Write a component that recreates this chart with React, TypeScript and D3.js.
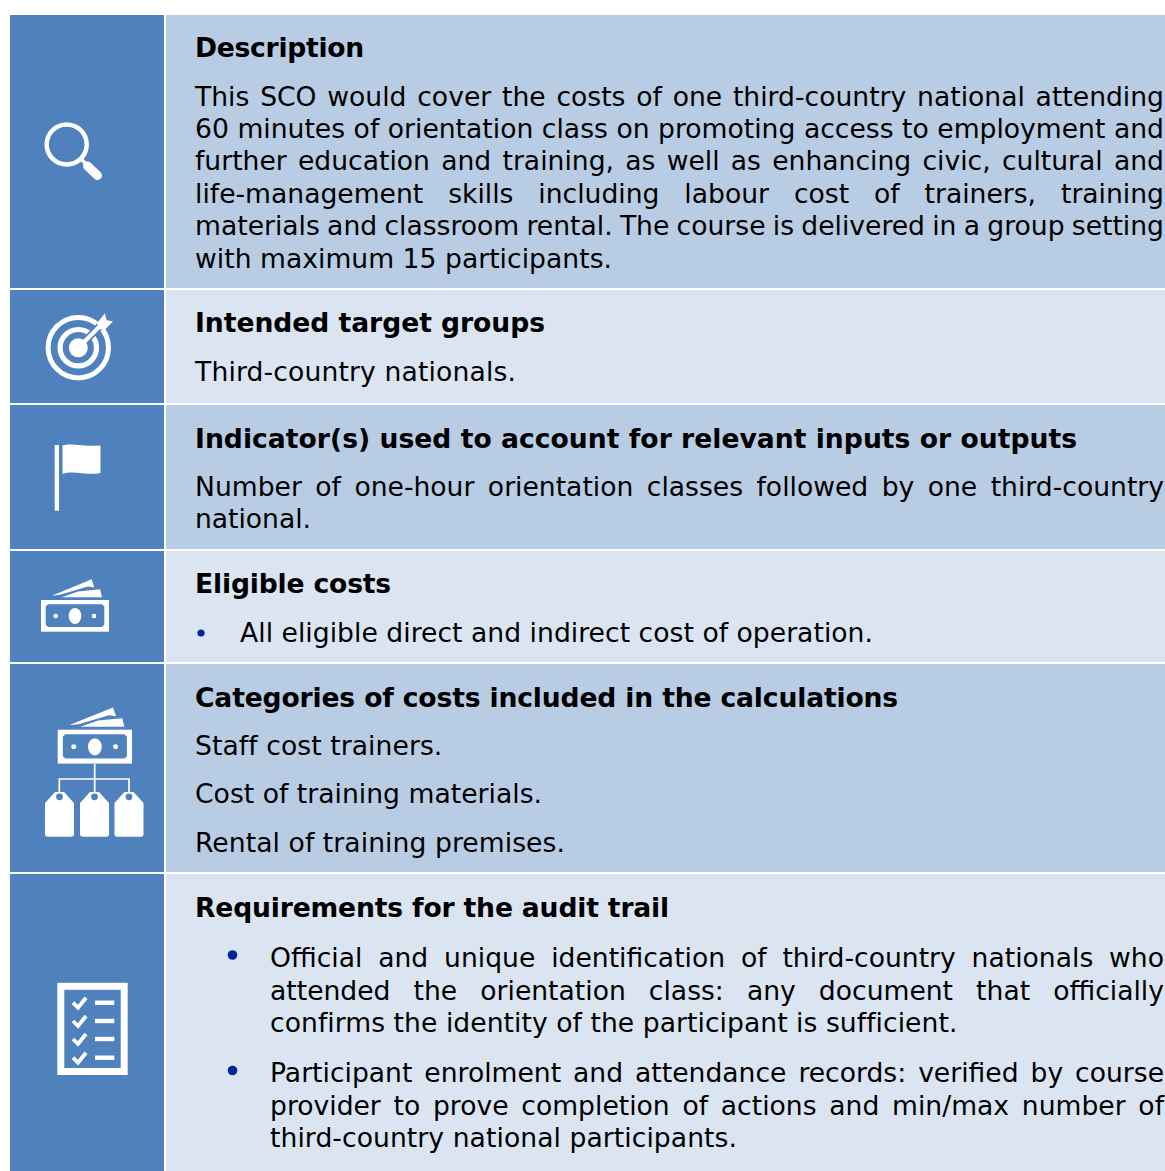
import React, { useEffect, useRef } from "react";
import * as d3 from "d3";

const WIDTH = 1165;
const HEIGHT = 1171;
const BLUE = "#4f81bd";
const DARK = "#b8cce4";
const LIGHT = "#dbe5f1";
const BULLET = "#00239c";
const FONT = "'DejaVu Sans', Verdana, sans-serif";
const SIZE = 26.6;
const RIGHT = 1164;

const rowTops = [15, 290, 405, 551, 664, 874];
const rowBottoms = [288, 403, 549, 662, 872, 1171];
const rowFills = [DARK, LIGHT, DARK, LIGHT, DARK, LIGHT];

const titles = [
  "Description",
  "Intended target groups",
  "Indicator(s) used to account for relevant inputs or outputs",
  "Eligible costs",
  "Categories of costs included in the calculations",
  "Requirements for the audit trail",
];
const titleBaselines = [57, 332, 448, 593, 707, 917];
const titleRightEdges = [364, 545, 1077, 391, 898, 669];

// [text, x, baseline, right edge, justified]
type Line = [string, number, number, number, boolean];
const bodyLines: Line[] = [
  ["This SCO would cover the costs of one third-country national attending", 195, 106, RIGHT, true],
  ["60 minutes of orientation class on promoting access to employment and", 195, 138, RIGHT, true],
  ["further education and training, as well as enhancing civic, cultural and", 195, 170, RIGHT, true],
  ["life-management skills including labour cost of trainers, training", 195, 203, RIGHT, true],
  ["materials and classroom rental. The course is delivered in a group setting", 195, 235, RIGHT, true],
  ["with maximum 15 participants.", 195, 268, 612, false],
  ["Third-country nationals.", 195, 381, 516, false],
  ["Number of one-hour orientation classes followed by one third-country", 195, 496, RIGHT, true],
  ["national.", 195, 528, 311, false],
  ["All eligible direct and indirect cost of operation.", 240, 642, 873, false],
  ["Staff cost trainers.", 195, 755, 442, false],
  ["Cost of training materials.", 195, 803, 542, false],
  ["Rental of training premises.", 195, 852, 565, false],
  ["Official and unique identification of third-country nationals who", 270, 967, RIGHT, true],
  ["attended the orientation class: any document that officially", 270, 1000, RIGHT, true],
  ["confirms the identity of the participant is sufficient.", 270, 1032, 957, false],
  ["Participant enrolment and attendance records: verified by course", 270, 1082, RIGHT, true],
  ["provider to prove completion of actions and min/max number of", 270, 1115, RIGHT, true],
  ["third-country national participants.", 270, 1147, 737, false],
];

const bullets: [number, number, number][] = [
  [201, 633, 3.6],
  [232.5, 955, 4.8],
  [232.5, 1070.5, 4.8],
];

function Money({ transform }: { transform?: string }) {
  return (
    <g transform={transform}>
      <path d="M51.7 595.7 L91.7 579.3 L94.3 587.5 L88 586.5 L60 594.8 Z" fill="#fff" />
      <path d="M61.7 597.3 L78 591.5 L100 589.3 L102 597.3 Z" fill="#fff" />
      <rect x={41} y={600} width={68} height={31.7} fill="#fff" />
      <path d="M48 604.3 H102 L104.3 606.6 V624.7 L102 627 H48 L45.7 624.7 V606.6 Z" fill={BLUE} />
      <ellipse cx={75} cy={616} rx={6.3} ry={8} fill="#fff" />
      <circle cx={55.7} cy={616} r={2.3} fill="#fff" />
      <circle cx={94} cy={616} r={2.3} fill="#fff" />
    </g>
  );
}

const tagXs = [45, 80, 114.5];
const checkRows = [1002.7, 1021, 1039, 1057.7];

function Icons() {
  return (
    <g>
      {/* magnifier */}
      <circle cx={66.7} cy={144.4} r={20} fill="none" stroke="#fff" strokeWidth={4.5} />
      <line x1={81} y1={159} x2={87} y2={165} stroke="#fff" strokeWidth={3.5} />
      <line x1={87.5} y1={166} x2={97.5} y2={175.5} stroke="#fff" strokeWidth={9} strokeLinecap="round" />

      {/* target */}
      <circle cx={78.3} cy={347.7} r={30.2} fill="none" stroke="#fff" strokeWidth={5} />
      <circle cx={78.3} cy={347.7} r={18.2} fill="none" stroke="#fff" strokeWidth={5.2} />
      <circle cx={78.3} cy={347.7} r={9.5} fill="#fff" />
      <line x1={86} y1={340} x2={106} y2={320} stroke={BLUE} strokeWidth={7.5} />
      <line x1={80} y1={346} x2={104} y2={322} stroke="#fff" strokeWidth={4} />
      <path d="M97 323 L105 313.3 L106.5 320 L113 321.5 L104.5 330 L99 329 Z" fill="#fff" />

      {/* flag */}
      <rect x={54.7} y={445} width={4.3} height={65.7} fill="#fff" />
      <path d="M62.5 445.5 C72 442.5 86 447 100.5 445.5 V473 C88 476 75 470 62.5 473.8 Z" fill="#fff" />

      {/* money */}
      <Money />

      {/* money and tags */}
      <Money transform="translate(57.7 729.7) scale(1.093 1.07) translate(-41 -600)" />
      <path
        d="M94.7 763.7 V794 M59.3 794 V779 H129 V794"
        fill="none"
        stroke="#fff"
        strokeWidth={1.7}
      />
      {tagXs.map((x) => (
        <g key={x}>
          <path
            d={`M${x} 803 L${x + 10} 792 H${x + 19} L${x + 29} 803 V834 Q${x + 29} 836.7 ${x + 26} 836.7 H${x + 3} Q${x} 836.7 ${x} 834 Z`}
            fill="#fff"
          />
          <circle cx={x + 14.5} cy={796.8} r={3.4} fill={BLUE} />
        </g>
      ))}

      {/* checklist */}
      <rect x={60.8} y={986.3} width={63.4} height={85.2} fill="none" stroke="#fff" strokeWidth={7} />
      {checkRows.map((y) => (
        <g key={y} stroke="#fff" fill="none">
          <path d="M73 0 L78 5 L86 -5" transform={`translate(0 ${y})`} strokeWidth={3.8} />
          <line x1={95} x2={114.3} y1={y} y2={y} strokeWidth={4.4} />
        </g>
      ))}
    </g>
  );
}

export default function App() {
  const ref = useRef<SVGSVGElement | null>(null);

  useEffect(() => {
    const svg = d3.select(ref.current);
    const g = svg.select<SVGGElement>("g.text");
    g.selectAll("*").remove();

    g.selectAll<SVGTextElement, string>("text.title")
      .data(titles)
      .join("text")
      .attr("class", "title")
      .attr("x", 195)
      .attr("y", (_, i) => titleBaselines[i])
      .attr("font-family", FONT)
      .attr("font-size", SIZE)
      .attr("font-weight", 700)
      .attr("fill", "#000")
      .text((d) => d)
      .each(function (d, i) {
        const extra = (titleRightEdges[i] - 195 - this.getComputedTextLength()) / d.length;
        d3.select(this).attr("letter-spacing", extra);
      });

    g.selectAll<SVGTextElement, Line>("text.body")
      .data(bodyLines)
      .join("text")
      .attr("class", "body")
      .attr("x", (d) => d[1])
      .attr("y", (d) => d[2])
      .attr("font-family", FONT)
      .attr("font-size", SIZE)
      .attr("fill", "#000")
      .text((d) => d[0])
      .each(function (d) {
        const free = d[3] - d[1] - this.getComputedTextLength();
        if (d[4]) {
          d3.select(this).attr("word-spacing", free / (d[0].split(" ").length - 1));
        } else {
          d3.select(this).attr("letter-spacing", free / d[0].length);
        }
      });
  }, []);

  return (
    <svg
      ref={ref}
      width={WIDTH}
      height={HEIGHT}
      viewBox={`0 0 ${WIDTH} ${HEIGHT}`}
      style={{ position: "absolute", left: 0, top: 0, display: "block" }}
    >
      <rect width={WIDTH} height={HEIGHT} fill="#fff" />
      {rowTops.map((top, i) => (
        <g key={top}>
          <rect x={10} y={top} width={154} height={rowBottoms[i] - top} fill={BLUE} />
          <rect x={166} y={top} width={999} height={rowBottoms[i] - top} fill={rowFills[i]} />
        </g>
      ))}
      <Icons />
      {bullets.map(([x, y, r]) => (
        <circle key={y} cx={x} cy={y} r={r} fill={BULLET} />
      ))}
      <g className="text" />
    </svg>
  );
}
